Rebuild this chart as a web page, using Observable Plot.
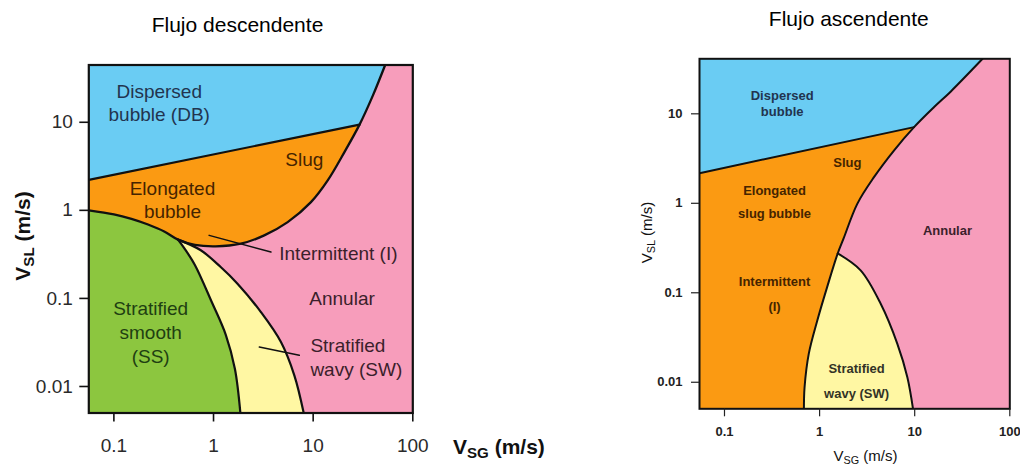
<!DOCTYPE html>
<html><head><meta charset="utf-8">
<script src="https://cdn.jsdelivr.net/npm/d3@7"></script>
<script src="https://cdn.jsdelivr.net/npm/@observablehq/plot@0.6"></script>
<style>
html,body{margin:0;padding:0;background:#fff;}
#wrap{position:relative;width:1020px;height:464px;overflow:hidden;}
#wrap svg{position:absolute;top:0;}
</style></head><body><div id="wrap"></div>
<script>
// ---------- data ----------
const titles = ["Flujo descendente", "Flujo ascendente"];
const xTicks = [0.1, 1, 10, 100];
const xTickLabels = ["0.1", "1", "10", "100"];
const yTicks = [0.01, 0.1, 1, 10];
const yTickLabels = ["0.01", "0.1", "1", "10"];
const xLabelParts = ["V", "SG", " (m/s)"];
const yLabelParts = ["V", "SL", " (m/s)"];

// Descending flow (left) — points are [VSG, VSL] in m/s
const downX = [0.056, 100];
const downY = [0.005, 44.7];
const downDbLine = [[0.056, 2.22], [29.2, 9.4]];
const downAnnular = [[52.8, 44.7], [39.8, 20.2], [29.2, 9.4], [20.6, 4.59], [14.0, 2.19], [9.5, 1.24], [5.55, 0.736], [3.23, 0.52], [1.88, 0.418], [1.05, 0.39], [0.65, 0.405], [0.44, 0.465]];
const downSmoothTop = [[0.44, 0.465], [0.32, 0.575], [0.22, 0.69], [0.15, 0.8], [0.1, 0.9], [0.056, 1.0]];
const downSmoothWavy = [[0.44, 0.465], [0.51, 0.37], [0.65, 0.24], [0.96, 0.091], [1.33, 0.0384], [1.64, 0.0158], [1.86, 0.005]];
const downWavyAnnular = [[0.44, 0.465], [0.745, 0.352], [1.18, 0.227], [1.74, 0.147], [2.99, 0.070], [4.75, 0.032], [6.47, 0.0134], [8.04, 0.005]];
const downLeaders = [[[0.904, 0.52], [3.77, 0.336]], [[2.88, 0.028], [7.26, 0.0226]]];
const downLabels = [
  {text: "Dispersed", x: 0.285, y: 22.0, region: "db"},
  {text: "bubble (DB)", x: 0.285, y: 12.0, region: "db"},
  {text: "Slug", x: 8.15, y: 3.7, region: "i"},
  {text: "Elongated", x: 0.387, y: 1.76, region: "i"},
  {text: "bubble", x: 0.387, y: 0.957, region: "i"},
  {text: "Annular", x: 19.5, y: 0.099, region: "a"},
  {text: "Stratified", x: 0.234, y: 0.0752, region: "ss"},
  {text: "smooth", x: 0.234, y: 0.0408, region: "ss"},
  {text: "(SS)", x: 0.234, y: 0.0216, region: "ss"}
];
const downSideLabels = [
  {text: "Intermittent (I)", x: 4.57, y: 0.322, region: "a"},
  {text: "Stratified", x: 9.38, y: 0.0288, region: "a"},
  {text: "wavy (SW)", x: 9.38, y: 0.0153, region: "a"}
];

// Ascending flow (right)
const upX = [0.0546, 100];
const upY = [0.00505, 41.2];
const upDbLine = [[0.0546, 2.17], [9.85, 7.1]];
const upIntermittent = [[51.7, 41.2], [24, 17.8], [16, 11.9], [9.85, 7.1], [6.05, 3.89], [3.73, 1.96], [2.49, 0.986], [1.78, 0.40], [1.55, 0.275], [1.2, 0.1156], [0.946, 0.049], [0.77, 0.0209], [0.695, 0.0088], [0.684, 0.00505]];
const upWavyAnnular = [[1.55, 0.275], [2.7, 0.178], [4.39, 0.0753], [6.57, 0.0269], [8.37, 0.0114], [9.6, 0.00505]];
const upLabels = [
  {text: "Dispersed", x: 0.404, y: 15.7, region: "db"},
  {text: "bubble", x: 0.404, y: 10.6, region: "db"},
  {text: "Slug", x: 1.96, y: 2.83, region: "i"},
  {text: "Elongated", x: 0.336, y: 1.39, region: "i"},
  {text: "slug bubble", x: 0.336, y: 0.764, region: "i"},
  {text: "Annular", x: 22.1, y: 0.497, region: "a"},
  {text: "Intermittent", x: 0.336, y: 0.131, region: "i"},
  {text: "(I)", x: 0.336, y: 0.0703, region: "i"},
  {text: "Stratified", x: 2.45, y: 0.01416, region: "sw"},
  {text: "wavy (SW)", x: 2.45, y: 0.00745, region: "sw"}
];

// ---------- styles ----------
const fills = {db: "#6accf3", i: "#fb9a12", a: "#f79dbb", ss: "#8cc63f", sw: "#fff7a3"};
const inks = {db: "#22344f", i: "#452400", a: "#3b1f2b", ss: "#1f3f12", sw: "#333326"};
const FONT = "'Liberation Sans', Arial, Helvetica, sans-serif";

// ---------- helpers ----------
const P = arr => arr.map(([x, y]) => ({x, y}));
// smooth boundary followed by straight frame corners (duplicated points keep the corners sharp)
const region = (curvePts, corners = []) => {
  const out = [...curvePts, curvePts[curvePts.length - 1]];
  for (const c of corners) out.push(c, c);
  out.push(curvePts[0]);
  return out;
};
const shape = (pts, fill, curve = "catmull-rom") =>
  Plot.line(P(pts), {x: "x", y: "y", fill, stroke: "none", curve, clip: true});
const edge = (pts, curve = "catmull-rom", w = 2) =>
  Plot.line(P(pts), {x: "x", y: "y", stroke: "#111", strokeWidth: w, curve, clip: true, strokeLinecap: "round"});
function extendLog([[x0, y0], [x1, y1]], xEnd) {
  const t = (Math.log10(xEnd) - Math.log10(x0)) / (Math.log10(x1) - Math.log10(x0));
  return [xEnd, 10 ** (Math.log10(y0) + t * (Math.log10(y1) - Math.log10(y0)))];
}
const fmtX = d => xTickLabels[xTicks.indexOf(d)];
const fmtY = d => yTickLabels[yTicks.indexOf(d)];

function addLabel(svg, parts, {x, y, size, weight = "normal", anchor = "middle", rotate = false}) {
  const t = d3.select(svg).append("text")
    .attr("font-family", FONT).attr("font-size", size).attr("font-weight", weight)
    .attr("fill", "#111").attr("text-anchor", anchor)
    .attr("transform", rotate ? `translate(${x},${y}) rotate(-90)` : `translate(${x},${y})`);
  const drop = size * 0.2;
  t.append("tspan").text(parts[0]);
  t.append("tspan").attr("font-size", size * 0.72).attr("dy", drop).text(parts[1]);
  t.append("tspan").attr("dy", -drop).text(parts[2]);
}
function addTitle(svg, text, x, y) {
  d3.select(svg).append("text").attr("font-family", FONT).attr("font-size", 21)
    .attr("fill", "#000").attr("text-anchor", "middle").attr("x", x).attr("y", y).text(text);
}

// ---------- left panel ----------
{
  const [x0, x1] = downX, [y0, y1] = downY;
  const K = downDbLine[1];
  const J = downAnnular[downAnnular.length - 1];
  const orangeBase = [downDbLine[0], K, extendLog(downDbLine, x1), [x1, y0], [x0, y0]];
  const pinkRegion = region([...downAnnular, J, ...downWavyAnnular.slice(1)], [[x1, y0], [x1, y1]]);
  const greenRegion = region([...downSmoothTop.slice().reverse(), J, ...downSmoothWavy.slice(1)], [[x0, y0]]);
  const yellowRegion = [...downSmoothWavy.slice().reverse(), J, ...downWavyAnnular.slice(1)];

  const svg = Plot.plot({
    width: 560, height: 464,
    marginLeft: 88.3, marginRight: 147.7, marginTop: 64.5, marginBottom: 51.5,
    x: {type: "log", domain: downX},
    y: {type: "log", domain: downY},
    color: {type: "identity"},
    style: {fontFamily: FONT, fontSize: "19px", background: "none", overflow: "visible"},
    marks: [
      Plot.frame({fill: fills.db, stroke: "none"}),
      shape(orangeBase, fills.i, "linear"),
      shape(pinkRegion, fills.a),
      shape(greenRegion, fills.ss),
      shape(yellowRegion, fills.sw),
      edge(downDbLine, "linear", 2.2),
      edge([...downAnnular, ...downSmoothTop.slice(1)], "catmull-rom", 2.3),
      edge(downSmoothWavy, "catmull-rom", 2.2),
      edge(downWavyAnnular, "catmull-rom", 2.2),
      ...downLeaders.map(l => edge(l, "linear", 1.5)),
      Plot.text(downLabels, {x: "x", y: "y", text: "text", fill: d => inks[d.region], fontSize: 19}),
      Plot.text(downSideLabels, {x: "x", y: "y", text: "text", fill: d => inks[d.region], fontSize: 19, textAnchor: "start"}),
      Plot.frame({stroke: "#111", strokeWidth: 2.2}),
      Plot.axisX({ticks: xTicks, tickFormat: fmtX, tickSize: 9, tickPadding: 16, fontSize: 19, stroke: "#111", strokeWidth: 1.6, fill: "#2a2a2a", label: null}),
      Plot.axisY({ticks: yTicks, tickFormat: fmtY, tickSize: 9, tickPadding: 7, fontSize: 19, stroke: "#111", strokeWidth: 1.6, fill: "#2a2a2a", label: null})
    ]
  });
  svg.style.left = "0px";
  document.getElementById("wrap").appendChild(svg);
  addTitle(svg, titles[0], 237.5, 31.5);
  addLabel(svg, yLabelParts, {x: 29.5, y: 236, size: 21, weight: "bold", rotate: true});
  addLabel(svg, xLabelParts, {x: 453, y: 453.5, size: 21, weight: "bold", anchor: "start"});
}

// ---------- right panel ----------
{
  const [x0, x1] = upX, [y0, y1] = upY;
  const K2 = upDbLine[1];
  const T = upWavyAnnular[0];
  const ti = upIntermittent.findIndex(p => p[0] === T[0] && p[1] === T[1]);
  const orangeBase = [upDbLine[0], K2, extendLog(upDbLine, x1), [x1, y0], [x0, y0]];
  const pinkRegion = region(upIntermittent, [[x1, y0], [x1, y1]]);
  const yellowRegion = [...upIntermittent.slice(ti).reverse(), T, ...upWavyAnnular.slice(1)];

  const svg = Plot.plot({
    width: 400, height: 464,
    marginLeft: 79, marginRight: 10.7, marginTop: 58.3, marginBottom: 55.7,
    x: {type: "log", domain: upX},
    y: {type: "log", domain: upY},
    color: {type: "identity"},
    style: {fontFamily: FONT, fontSize: "13px", background: "none", overflow: "visible"},
    marks: [
      Plot.frame({fill: fills.db, stroke: "none"}),
      shape(orangeBase, fills.i, "linear"),
      shape(pinkRegion, fills.a),
      shape(yellowRegion, fills.sw),
      edge(upDbLine, "linear", 2),
      edge(upIntermittent, "catmull-rom", 2),
      edge(upWavyAnnular, "catmull-rom", 2),
      Plot.text(upLabels, {x: "x", y: "y", text: "text", fill: d => inks[d.region], fontSize: 13, fontWeight: "bold"}),
      Plot.frame({stroke: "#111", strokeWidth: 2}),
      Plot.axisX({ticks: xTicks, tickFormat: fmtX, tickSize: 8, tickPadding: 10, fontSize: 13, fontWeight: "bold", stroke: "#222", strokeWidth: 1.2, fill: "#222", label: null}),
      Plot.axisY({ticks: yTicks, tickFormat: fmtY, tickSize: 8, tickPadding: 9, fontSize: 13, fontWeight: "bold", stroke: "#222", strokeWidth: 1.2, fill: "#222", label: null})
    ]
  });
  svg.style.left = "620px";
  document.getElementById("wrap").appendChild(svg);
  addTitle(svg, titles[1], 228.8, 25.5);
  addLabel(svg, yLabelParts, {x: 31.5, y: 232.5, size: 15, rotate: true});
  addLabel(svg, xLabelParts, {x: 245.5, y: 460.5, size: 15});
}
</script></body></html>
